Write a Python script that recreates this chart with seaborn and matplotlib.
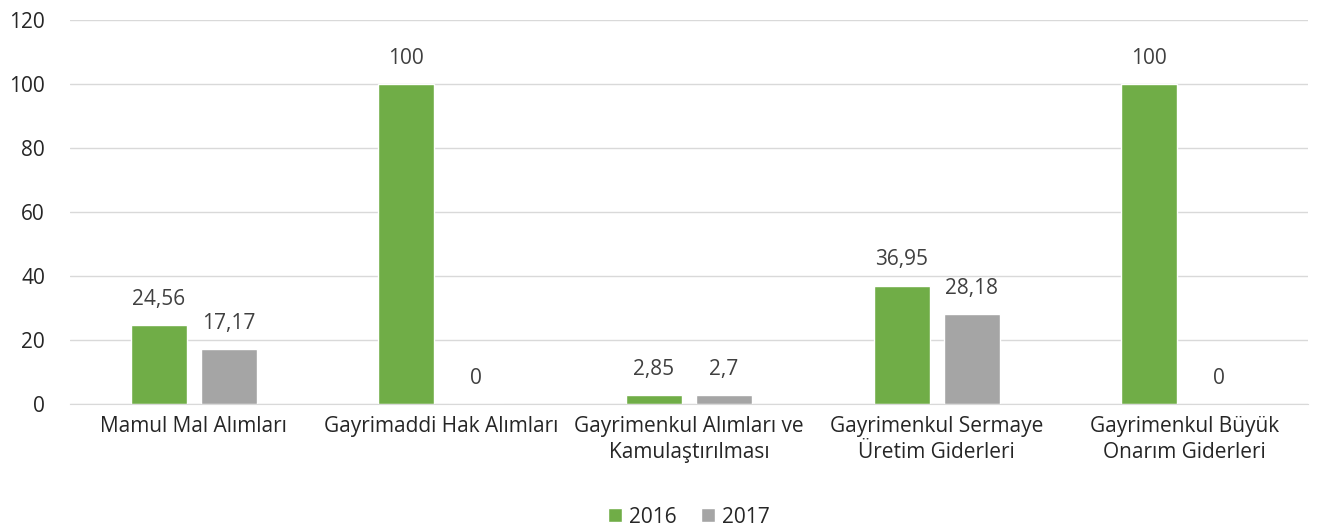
import seaborn as sns
import pandas as pd
import matplotlib.pyplot as plt

kategoriler = ['Mamul Mal Alımları', 'Gayrimaddi Hak Alımları',
               'Gayrimenkul Alımları ve\nKamulaştırılması',
               'Gayrimenkul Sermaye\nÜretim Giderleri',
               'Gayrimenkul Büyük\nOnarım Giderleri']
yillar = ['2016', '2017']
degerler_2016 = [24.56, 100, 2.85, 36.95, 100]
degerler_2017 = [17.17, 0, 2.7, 28.18, 0]
etiketler_2016 = ['24,56', '100', '2,85', '36,95', '100']
etiketler_2017 = ['17,17', '0', '2,7', '28,18', '0']

df = pd.DataFrame({
    'kategori': kategoriler * 2,
    'yil': ['2016'] * 5 + ['2017'] * 5,
    'deger': degerler_2016 + degerler_2017,
})

sns.set_style('white')
plt.rcParams['font.family'] = ['Open Sans', 'DejaVu Sans']

fig = plt.figure(figsize=(13.3, 5.26), dpi=100)
ax = fig.add_axes([0.0526, 0.232, 0.9309, 0.73])

sns.barplot(data=df, x='kategori', y='deger', hue='yil', hue_order=yillar,
            palette=['#70AD47', '#A5A5A5'], width=0.565, gap=0.2,
            saturation=1, ax=ax, legend=True)

for cont, etiketler in zip(ax.containers, [etiketler_2016, etiketler_2017]):
    ax.bar_label(cont, labels=etiketler, padding=11, fontsize=15, color='#404040')

ax.set_ylim(0, 120)
ax.set_yticks(range(0, 121, 20))
ax.yaxis.grid(True, color='#D9D9D9', linewidth=1)
ax.set_axisbelow(True)
for s in ['top', 'right', 'left']:
    ax.spines[s].set_visible(False)
ax.spines['bottom'].set_color('#D9D9D9')
ax.tick_params(axis='both', length=0, labelsize=15, labelcolor='#262626')
ax.tick_params(axis='x', pad=9)
ax.tick_params(axis='y', pad=18)
for t in ax.get_xticklabels():
    t.set_linespacing(1.3)
ax.set_xlabel('')
ax.set_ylabel('')

ax.legend(loc='lower center', bbox_to_anchor=(0.5, -0.36), ncol=2, frameon=False,
          fontsize=15, handlelength=0.65, handleheight=0.65, handletextpad=0.35,
          columnspacing=1.2, labelcolor='#262626', borderpad=0.2)

plt.savefig('out.png', dpi=100)
